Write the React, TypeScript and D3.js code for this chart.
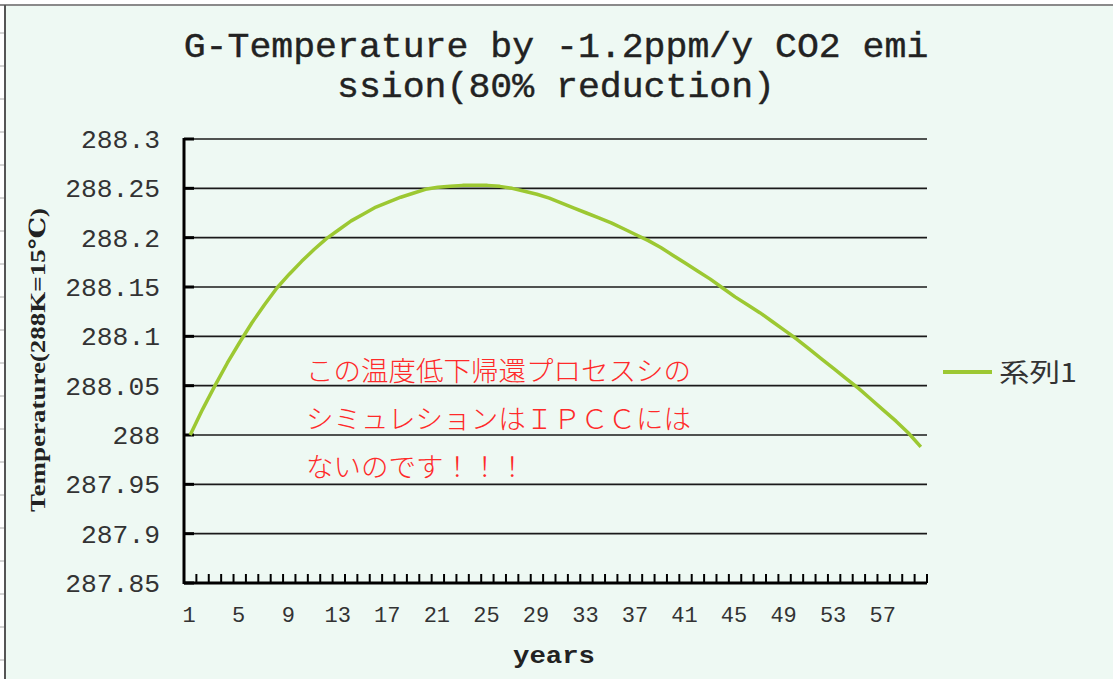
import * as d3 from "d3";

const years = d3.range(1, 61);

const temperature = [
  288.0, 288.026, 288.05, 288.073, 288.094, 288.114, 288.132, 288.149, 288.163, 288.176,
  288.188, 288.199, 288.208, 288.217, 288.224, 288.231, 288.236, 288.241, 288.245, 288.249,
  288.251, 288.252, 288.253, 288.253, 288.253, 288.252, 288.25, 288.247, 288.244, 288.24,
  288.235, 288.23, 288.225, 288.22, 288.215, 288.209, 288.203, 288.197, 288.19, 288.182,
  288.174, 288.166, 288.158, 288.149, 288.14, 288.132, 288.124, 288.115, 288.106, 288.097,
  288.087, 288.077, 288.067, 288.057, 288.047, 288.036, 288.025, 288.014, 288.002, 287.988,
];

const yTicks = [287.85, 287.9, 287.95, 288, 288.05, 288.1, 288.15, 288.2, 288.25, 288.3];
const yTickLabels = ["287.85", "287.9", "287.95", "288", "288.05", "288.1", "288.15", "288.2", "288.25", "288.3"];
const xLabelYears = [1, 5, 9, 13, 17, 21, 25, 29, 33, 37, 41, 45, 49, 53, 57];

const titleLines = ["G-Temperature by -1.2ppm/y CO2 emi", "ssion(80% reduction)"];
const noteLines = ["この温度低下帰還プロセスシの", "シミュレションはＩＰＣＣには", "ないのです！！！"];
const seriesName = "系列1";

const width = 1113;
const height = 679;
const plot = { left: 184, right: 927, top: 139, bottom: 583 };
const green = "#9cc832";
const mono = "'Liberation Mono', 'DejaVu Sans Mono', monospace";
const serif = "'Liberation Serif', 'DejaVu Serif', serif";
const cjk = "'Noto Sans CJK JP', sans-serif";

export default function App() {
  const x = d3.scaleBand<number>().domain(years).range([plot.left, plot.right]);
  const y = d3.scaleLinear().domain([287.85, 288.3]).range([plot.bottom, plot.top]);
  const cx = (yr: number) => (x(yr) ?? 0) + x.bandwidth() / 2;

  const line = d3
    .line<number>()
    .x((_, i) => cx(years[i]))
    .y((v) => y(v));

  const boundaries = years.map((yr) => x(yr) ?? 0).concat([plot.right]);
  const rulerMarks = d3.range(33, height, 33);

  return (
    <div style={{ position: "fixed", left: 0, top: 0 }}>
      <svg width={width} height={height} viewBox={`0 0 ${width} ${height}`} style={{ display: "block" }}>
        <rect x={0} y={0} width={width} height={height} fill="#ffffff" />
        <rect x={5} y={5} width={width - 5} height={height - 5} fill="#eef9f3" />
        <line x1={0} x2={width} y1={5} y2={5} stroke="#8a8a8a" strokeWidth={2} />
        <line x1={5} x2={5} y1={5} y2={height} stroke="#555" strokeWidth={2} />
        {rulerMarks.map((m) => (
          <line key={m} x1={0} x2={4} y1={m} y2={m} stroke="#aaa" strokeWidth={1} />
        ))}

        {/* title */}
        {titleLines.map((t, i) => (
          <text
            key={t}
            x={556}
            y={57 + i * 40}
            textAnchor="middle"
            fontFamily={mono}
            fontSize={35}
            fill="#222"
            stroke="#222"
            strokeWidth={0.4}
            textLength={t.length * 21.9}
            lengthAdjust="spacingAndGlyphs"
          >
            {t}
          </text>
        ))}

        {/* gridlines */}
        {yTicks.map((t) => (
          <g key={t}>
            <line x1={plot.left} x2={plot.right} y1={y(t)} y2={y(t)} stroke="#1a1a1a" strokeWidth={1.6} />
            <line x1={plot.left} x2={plot.left + 10} y1={y(t)} y2={y(t)} stroke="#000" strokeWidth={3} />
          </g>
        ))}
        {yTicks.map((t, i) => (
          <text
            key={`l${t}`}
            x={160}
            y={y(t) + 9}
            textAnchor="end"
            fontFamily={mono}
            fontSize={26}
            fill="#333"
            textLength={yTickLabels[i].length * 15.8}
            lengthAdjust="spacingAndGlyphs"
          >
            {yTickLabels[i]}
          </text>
        ))}

        {/* axes */}
        <line x1={plot.left} x2={plot.left} y1={plot.top - 1} y2={plot.bottom + 1} stroke="#000" strokeWidth={3} />
        <line x1={plot.left} x2={plot.right} y1={plot.bottom} y2={plot.bottom} stroke="#000" strokeWidth={3} />
        {boundaries.map((b, i) => (
          <line key={i} x1={b} x2={b} y1={plot.bottom} y2={plot.bottom - 9} stroke="#000" strokeWidth={2} />
        ))}
        {xLabelYears.map((yr) => (
          <text key={yr} x={cx(yr) - 1} y={622} textAnchor="middle" fontFamily={mono} fontSize={22} fill="#333">
            {yr}
          </text>
        ))}

        {/* axis titles */}
        <text
          transform="translate(45,360) rotate(-90)"
          textAnchor="middle"
          fontFamily={serif}
          fontWeight="bold"
          fontSize={22}
          fill="#222"
          textLength={304}
          lengthAdjust="spacingAndGlyphs"
        >
          Temperature(288K=15℃)
        </text>
        <text
          x={554}
          y={663}
          textAnchor="middle"
          fontFamily={mono}
          fontWeight="bold"
          fontSize={24}
          fill="#222"
          textLength={82}
          lengthAdjust="spacingAndGlyphs"
        >
          years
        </text>

        {/* series */}
        <path d={line(temperature) ?? ""} fill="none" stroke={green} strokeWidth={3.5} strokeLinejoin="round" />

        {/* note */}
        {noteLines.map((t, i) => (
          <text
            key={t}
            x={306}
            y={381 + i * 48}
            fontFamily={cjk}
            fontWeight={300}
            fontSize={27}
            fill="#ff2a2a"
            textLength={t.length * 27.5}
            lengthAdjust="spacingAndGlyphs"
          >
            {t}
          </text>
        ))}

        {/* legend */}
        <line x1={943} x2={992} y1={372} y2={372} stroke={green} strokeWidth={4} />
        <text x={999} y={382} fontFamily={cjk} fontSize={26} fill="#333" textLength={78} lengthAdjust="spacingAndGlyphs">
          {seriesName}
        </text>
      </svg>
    </div>
  );
}
